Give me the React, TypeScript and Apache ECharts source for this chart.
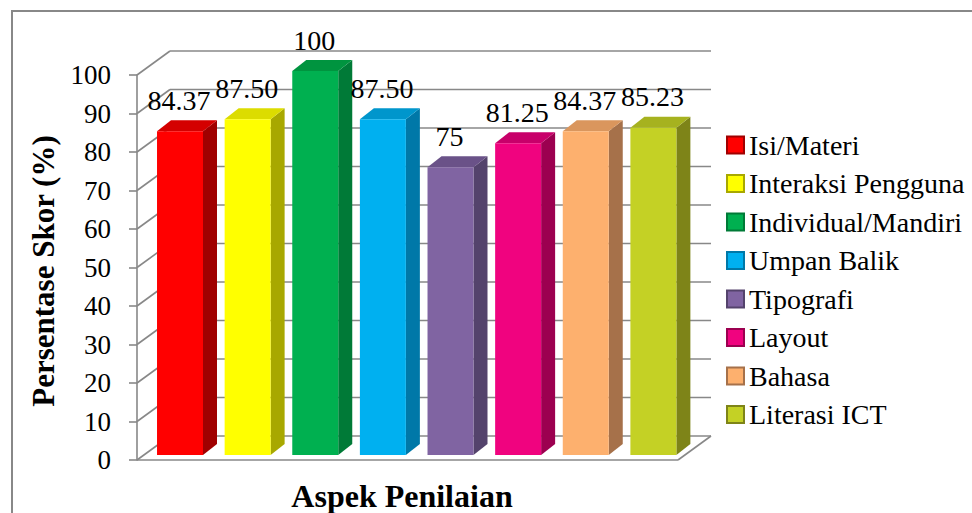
import React, { useEffect, useRef } from "react";
import * as echarts from "echarts";

const categories = [
  "Isi/Materi",
  "Interaksi Pengguna",
  "Individual/Mandiri",
  "Umpan Balik",
  "Tipografi",
  "Layout",
  "Bahasa",
  "Literasi ICT",
];
const values = [84.37, 87.5, 100, 87.5, 75, 81.25, 84.37, 85.23];
const valueLabels = ["84.37", "87.50", "100", "87.50", "75", "81.25", "84.37", "85.23"];
const yTicks = [0, 10, 20, 30, 40, 50, 60, 70, 80, 90, 100];
const yTitle = "Persentase Skor (%)";
const xTitle = "Aspek Penilaian";

const frontColors = ["#FF0000", "#FFFF00", "#00B050", "#00B0F0", "#8064A2", "#F0037F", "#FDB06E", "#C4D125"];
const topColors = ["#D40000", "#DCDC00", "#00943F", "#0096CC", "#6A5288", "#C8006A", "#DA965D", "#A6B21F"];
const sideColors = ["#A00000", "#A8A800", "#007A37", "#0078A8", "#54436C", "#9C0050", "#A6714A", "#7E8418"];

const FONT = "Liberation Serif";
const GRAY = "#888888";
const DX = 33;
const DY = 24;

export default function App() {
  const ref = useRef<HTMLDivElement>(null);

  useEffect(() => {
    if (!ref.current) return;
    const chart = echarts.init(ref.current, null, { renderer: "svg" });

    const wallSeries: any = {
      type: "custom",
      silent: true,
      z: 1,
      data: yTicks.map((v) => [0, v]),
      renderItem: (params: any, api: any) => {
        const v = api.value(1);
        const cs = params.coordSys;
        const y = api.coord([0, v])[1];
        const xl = cs.x;
        const xr = cs.x + cs.width;
        const ls = { stroke: GRAY, lineWidth: 1.6, fill: null };
        const children: any[] = [
          { type: "line", shape: { x1: xl, y1: y, x2: xl + DX, y2: y - DY }, style: ls },
          { type: "line", shape: { x1: xl + DX, y1: y - DY, x2: xr + DX, y2: y - DY }, style: ls },
        ];
        if (v === 0) {
          children.push({ type: "line", shape: { x1: xl, y1: y, x2: xr, y2: y }, style: ls });
          children.push({ type: "line", shape: { x1: xr, y1: y, x2: xr + DX, y2: y - DY }, style: ls });
        }
        return { type: "group", children };
      },
    };

    const barSeries = categories.map((name, i) => ({
      type: "custom",
      name,
      z: 3,
      silent: true,
      itemStyle: { color: frontColors[i], borderColor: sideColors[i], borderWidth: 1 },
      data: [[i, values[i]]],
      renderItem: (params: any, api: any) => {
        const idx = api.value(0);
        const v = api.value(1);
        const base = api.coord([idx, 0]);
        const top = api.coord([idx, v]);
        const bw = api.size([1, 0])[0];
        const fw = bw * 0.68;
        const x0 = base[0] - bw / 2 + bw * 0.296;
        const yb = base[1] - 5;
        const yt = top[1] - 4;
        const sx = 14;
        const sy = 11;
        return {
          type: "group",
          children: [
            {
              type: "polygon",
              shape: {
                points: [
                  [x0 + fw, yb],
                  [x0 + fw + sx, yb - sy],
                  [x0 + fw + sx, yt - sy],
                  [x0 + fw, yt],
                ],
              },
              style: { fill: sideColors[i] },
            },
            {
              type: "polygon",
              shape: {
                points: [
                  [x0, yt],
                  [x0 + sx, yt - sy],
                  [x0 + fw + sx, yt - sy],
                  [x0 + fw, yt],
                ],
              },
              style: { fill: topColors[i] },
            },
            {
              type: "rect",
              shape: { x: x0, y: yt, width: fw, height: yb - yt },
              style: { fill: frontColors[i] },
            },
            {
              type: "text",
              x: x0 + fw / 2 - 1,
              y: top[1] - 35,
              style: {
                text: valueLabels[i],
                fill: "#000",
                fontSize: 28,
                fontFamily: FONT,
                align: "center",
                verticalAlign: "middle",
              },
            },
          ],
        };
      },
    }));

    chart.setOption({
      animation: false,
      backgroundColor: "#fff",
      textStyle: { fontFamily: FONT },
      grid: { left: 137, top: 75, width: 541, height: 385, containLabel: false },
      xAxis: {
        type: "category",
        data: categories,
        boundaryGap: true,
        axisLine: { show: false },
        axisTick: { show: false },
        axisLabel: { show: false },
        splitLine: { show: false },
      },
      yAxis: {
        type: "value",
        min: 0,
        max: 100,
        interval: 10,
        axisLine: { show: true, lineStyle: { color: GRAY, width: 1.6 } },
        axisTick: { show: true, length: 8, inside: false, lineStyle: { color: GRAY, width: 1.6 } },
        axisLabel: { color: "#000", fontSize: 27, fontFamily: FONT, margin: 26 },
        splitLine: { show: false },
      },
      legend: {
        orient: "vertical",
        left: 721,
        top: 126,
        itemWidth: 17,
        itemHeight: 17,
        itemGap: 10.5,
        icon: "rect",
        selectedMode: false,
        data: categories,
        textStyle: { color: "#000", fontSize: 28, fontFamily: FONT, lineHeight: 28, padding: [0, 0, 0, 0] },
      },
      graphic: [
        {
          type: "rect",
          z: -10,
          silent: true,
          shape: { x: 12, y: 11, width: 1000, height: 600 },
          style: { fill: "none", stroke: GRAY, lineWidth: 2 },
        },
        {
          type: "text",
          x: 43,
          y: 271,
          rotation: Math.PI / 2,
          silent: true,
          style: {
            text: yTitle,
            fill: "#000",
            fontSize: 31,
            fontWeight: "bold",
            fontFamily: FONT,
            align: "center",
            verticalAlign: "middle",
            textAlign: "center",
            textVerticalAlign: "middle",
          },
        },
        {
          type: "text",
          x: 402,
          y: 496,
          silent: true,
          style: {
            text: xTitle,
            fill: "#000",
            fontSize: 32,
            fontWeight: "bold",
            fontFamily: FONT,
            align: "center",
            verticalAlign: "middle",
            textAlign: "center",
            textVerticalAlign: "middle",
          },
        },
      ],
      series: [wallSeries, ...barSeries],
    });

    return () => chart.dispose();
  }, []);

  return (
    <div
      ref={ref}
      style={{ position: "absolute", left: 0, top: 0, width: 972, height: 513 }}
    />
  );
}
